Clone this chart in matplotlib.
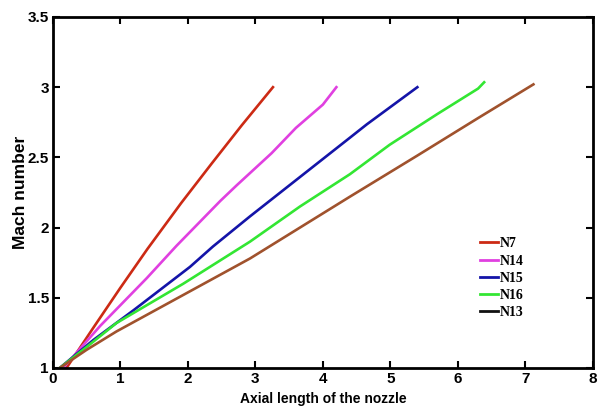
import matplotlib
matplotlib.use("Agg")
import matplotlib.pyplot as plt
from matplotlib.lines import Line2D

# ---- data ----
n7_x = [0.2, 0.6, 1.0, 1.4, 1.9, 2.35, 2.8, 3.26]
n7_y = [1.0, 1.288, 1.572, 1.848, 2.175, 2.455, 2.73, 3.0]

n14_x = [0.15, 0.7, 1.39, 1.83, 2.48, 2.72, 3.24, 3.6, 4.0, 4.2]
n14_y = [1.0, 1.3, 1.64, 1.87, 2.19, 2.3, 2.53, 2.71, 2.876, 3.0]

n15_x = [0.1, 0.6, 1.19, 2.03, 2.37, 2.92, 3.66, 4.4, 4.65, 5.4]
n15_y = [1.0, 1.2, 1.41, 1.72, 1.865, 2.08, 2.36, 2.64, 2.735, 3.0]

n16_x = [0.1, 0.5, 0.94, 1.93, 2.92, 3.66, 4.4, 4.99, 5.7, 6.3, 6.39]
n16_y = [1.0, 1.15, 1.32, 1.6, 1.90, 2.15, 2.38, 2.59, 2.81, 2.99, 3.035]

n13_x = [0.1, 0.5, 0.94, 1.93, 2.92, 3.66, 4.4, 5.39, 6.3, 7.12]
n13_y = [1.0, 1.13, 1.26, 1.52, 1.78, 2.0, 2.22, 2.51, 2.78, 3.02]

series_names = ["N7", "N14", "N15", "N16", "N13"]
x_ticks = [0, 1, 2, 3, 4, 5, 6, 7, 8]
x_tick_labels = ["0", "1", "2", "3", "4", "5", "6", "7", "8"]
y_ticks = [1, 1.5, 2, 2.5, 3, 3.5]
y_tick_labels = ["1", "1.5", "2", "2.5", "3", "3.5"]

# ---- styling ----
colors = ["#cc2a14", "#e040e0", "#1414a8", "#33e633", "#a0522d"]
legend_colors = ["#cc2a14", "#e040e0", "#1414a8", "#33e633", "#111111"]

fig = plt.figure(figsize=(6.0, 4.12), dpi=100)
ax = fig.add_axes([0.0883, 0.1068, 0.8997, 0.852])

xs = [n7_x, n14_x, n15_x, n16_x, n13_x]
ys = [n7_y, n14_y, n15_y, n16_y, n13_y]
for x, y, c in zip(xs, ys, colors):
    ax.plot(x, y, color=c, lw=1.9, solid_joinstyle="round")

ax.set_xlim(0, 8)
ax.set_ylim(1, 3.5)
ax.set_xticks(x_ticks)
ax.set_xticklabels(x_tick_labels)
ax.set_yticks(y_ticks)
ax.set_yticklabels(y_tick_labels)
ax.tick_params(direction="in", length=5, width=1.5, top=True, right=True,
               labelsize=11, pad=3)
for lab in ax.get_xticklabels() + ax.get_yticklabels():
    lab.set_fontweight("bold")
    lab.set_family("Liberation Sans")
for s in ax.spines.values():
    s.set_linewidth(2)

ax.set_xlabel("Axial length of the nozzle", fontsize=10, fontweight="bold",
              family="Liberation Sans", labelpad=4)
ax.set_ylabel("Mach number", fontsize=12.5, fontweight="bold",
              family="Liberation Sans")
ax.yaxis.set_label_coords(-0.047, 0.5)

handles = [Line2D([], [], color=c, lw=2) for c in legend_colors]
leg = ax.legend(handles, series_names, loc="upper left",
                bbox_to_anchor=(0.779, 0.392), frameon=False,
                prop={"family": "Liberation Serif", "weight": "bold", "size": 10},
                handlelength=1.3, handletextpad=0.1, labelspacing=0.3,
                borderpad=0)

fig.savefig("out.png", dpi=100)
